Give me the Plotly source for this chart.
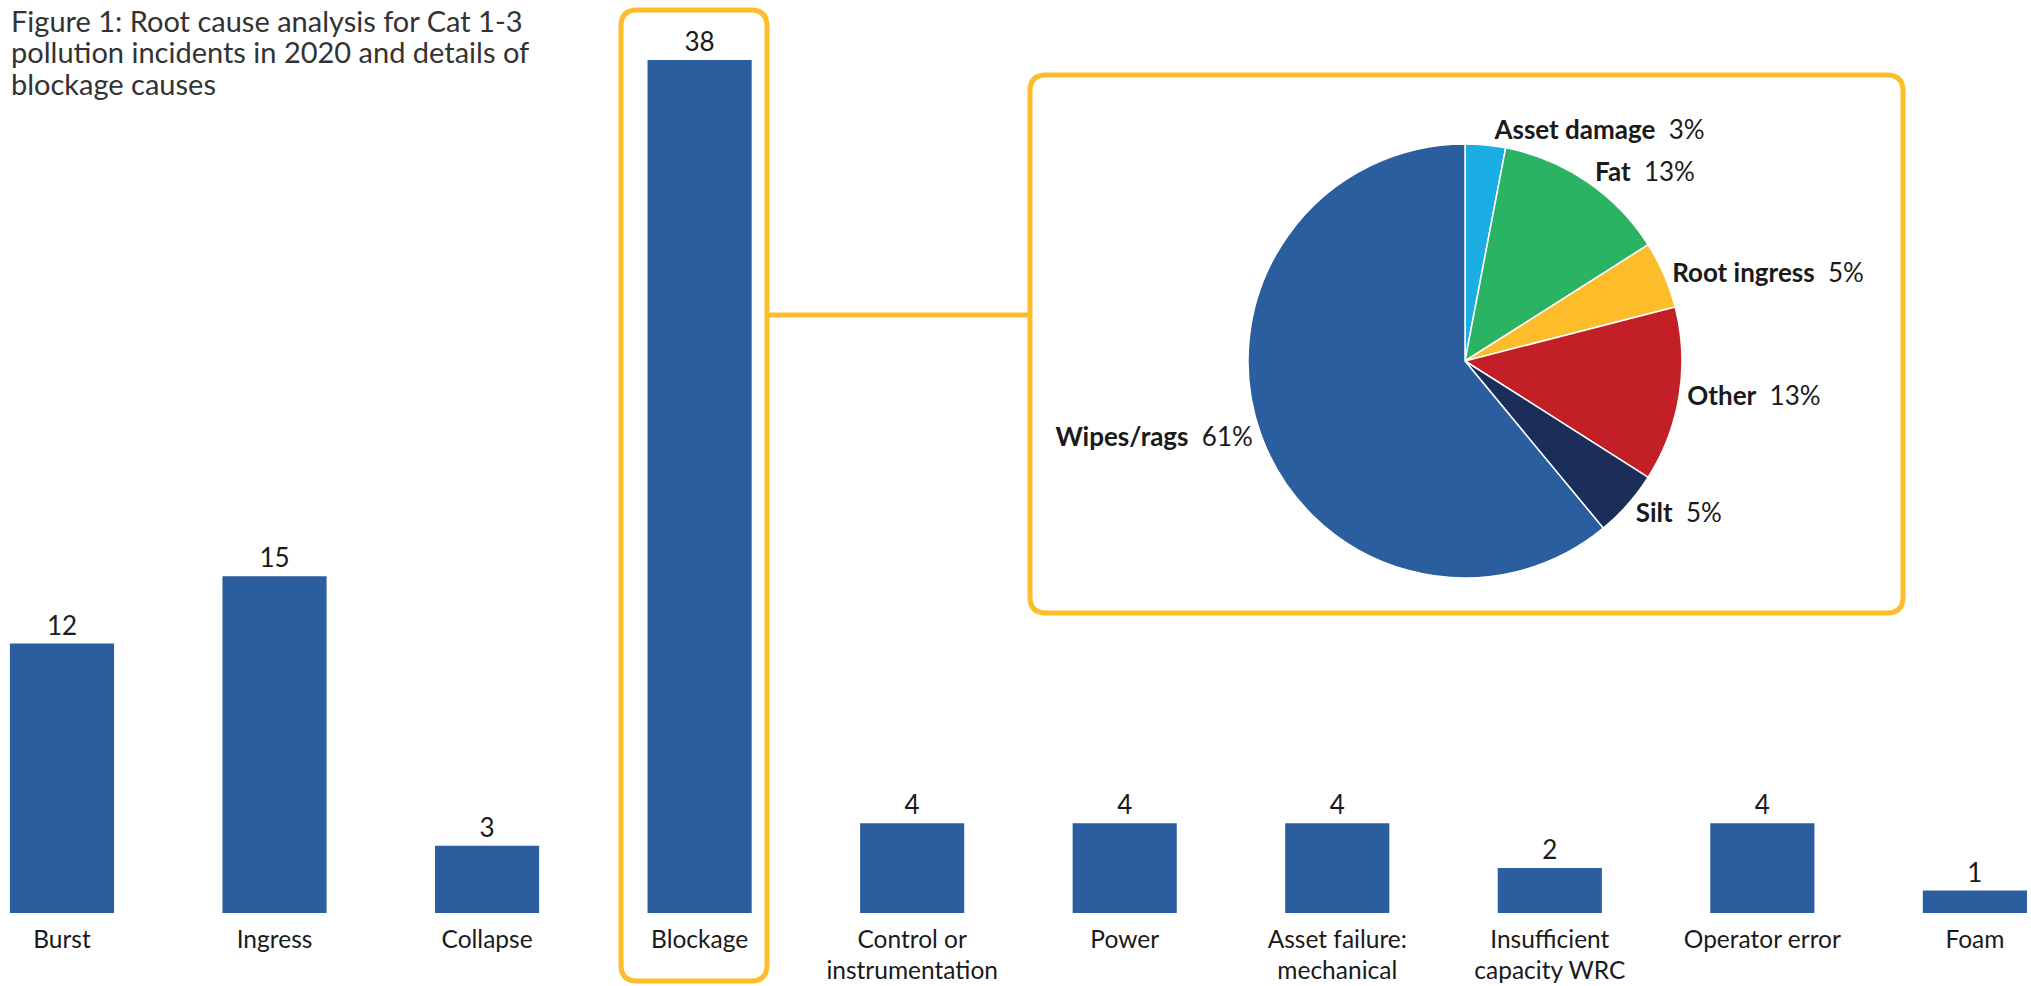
import plotly.graph_objects as go

# ---- data ----
categories = ["Burst", "Ingress", "Collapse", "Blockage", "Control or instrumentation",
              "Power", "Asset failure: mechanical", "Insufficient capacity WRC",
              "Operator error", "Foam"]
tick_labels = ["Burst", "Ingress", "Collapse", "Blockage", "Control or<br>instrumentation",
               "Power", "Asset failure:<br>mechanical", "Insufficient<br>capacity WRC",
               "Operator error", "Foam"]
incidents = [12, 15, 3, 38, 4, 4, 4, 2, 4, 1]

blockage_causes = ["Asset damage", "Fat", "Root ingress", "Other", "Silt", "Wipes/rags"]
blockage_pct = [3, 13, 5, 13, 5, 61]
pie_colors = ["#1BAEE4", "#2AB362", "#FDBD2B", "#C21F26", "#1B2D59", "#2A5E9E"]

title_lines = ["Figure 1: Root cause analysis for Cat 1-3",
               "pollution incidents in 2020 and details of",
               "blockage causes"]

# ---- geometry helpers (pixel -> paper) ----
W, H = 2031, 986
ML, MR, MT, MB = 0, 0, 0, 73
PW, PH = W - ML - MR, H - MT - MB

def px(x):
    return (x - ML) / PW

def py(y):
    return (H - MB - y) / PH

def rrect(x0, y0, x1, y1, r):
    rx, ry = r / PW, r / PH
    X0, X1 = px(x0), px(x1)
    Y0, Y1 = py(y0), py(y1)  # Y0 top (larger), Y1 bottom
    return (f"M {X0+rx},{Y0} L {X1-rx},{Y0} Q {X1},{Y0} {X1},{Y0-ry} "
            f"L {X1},{Y1+ry} Q {X1},{Y1} {X1-rx},{Y1} "
            f"L {X0+rx},{Y1} Q {X0},{Y1} {X0},{Y1+ry} "
            f"L {X0},{Y0-ry} Q {X0},{Y0} {X0+rx},{Y0} Z")

FONT = "Lato, 'Open Sans', sans-serif"
BAR_COLOR = "#2A5E9E"
YELLOW = "#FDBD2B"

fig = go.Figure()

fig.add_trace(go.Bar(
    x=categories, y=incidents,
    marker=dict(color=BAR_COLOR, line=dict(width=0)),
    text=incidents, textposition="outside",
    textfont=dict(size=26, color="#1a1a1a", family=FONT),
    cliponaxis=False, width=0.49, showlegend=False,
))

# pie placement
cx, cy, r = 1465, 361, 217
fig.add_trace(go.Pie(
    labels=blockage_causes, values=blockage_pct,
    marker=dict(colors=pie_colors, line=dict(color="white", width=1.5)),
    sort=False, direction="clockwise", rotation=0,
    textposition="outside",
    texttemplate="<b>%{label}</b>  %{value}%",
    textfont=dict(size=26, color="#1a1a1a", family=FONT),
    domain=dict(x=[px(cx - r), px(cx + r)], y=[py(cy + r), py(cy - r)]),
    showlegend=False, hoverinfo="label+value",
))

shapes = [
    dict(type="path", xref="paper", yref="paper", path=rrect(621, 10, 767, 981, 16),
         line=dict(color=YELLOW, width=5)),
    dict(type="path", xref="paper", yref="paper", path=rrect(1030, 75, 1903, 613, 16),
         line=dict(color=YELLOW, width=5)),
    dict(type="line", xref="paper", yref="paper", x0=px(767), x1=px(1030),
         y0=py(315), y1=py(315), line=dict(color=YELLOW, width=5)),
]

annotations = []
for i, line in enumerate(title_lines):
    annotations.append(dict(
        text=line, xref="paper", yref="paper", x=px(9), y=py(20 + 32 * i),
        xanchor="left", yanchor="middle", align="left", showarrow=False,
        font=dict(size=29, color="#333333", family=FONT),
    ))

fig.update_layout(
    width=W, height=H,
    margin=dict(l=ML, r=MR, t=MT, b=MB, pad=0),
    paper_bgcolor="white", plot_bgcolor="white",
    font=dict(family=FONT, color="#1a1a1a"),
    bargap=0.51,
    shapes=shapes,
    annotations=annotations,
    xaxis=dict(
        type="category", range=[-0.2916, 9.264], showgrid=False, zeroline=False,
        showline=False, ticks="", tickvals=categories, ticktext=tick_labels,
        tickfont=dict(size=24.5, color="#1a1a1a", family=FONT), automargin=False,
        ticklabelstandoff=9,
    ),
    yaxis=dict(range=[0, 40.67], visible=False, fixedrange=True),
)

fig.write_html("out.html")
